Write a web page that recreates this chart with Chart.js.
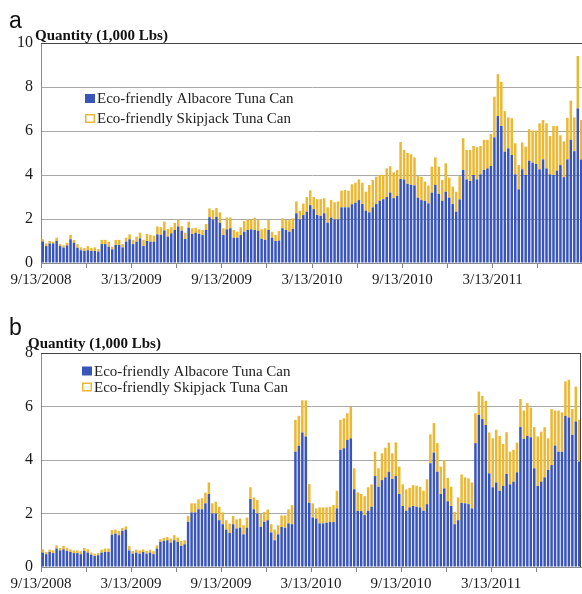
<!DOCTYPE html>
<html><head><meta charset="utf-8">
<script src="https://cdn.jsdelivr.net/npm/chart.js@4.4.1/dist/chart.umd.min.js"></script>
<style>
html,body{margin:0;padding:0;background:#fff;overflow:hidden;width:582px;height:594px;}
#ca{position:absolute;left:0;top:0;}
#cb{position:absolute;left:0;top:300px;}
</style></head><body>
<canvas id="ca" width="590" height="297"></canvas>
<canvas id="cb" width="590" height="294"></canvas>
<script>
// ---------- data ----------
const tickLabels = ["9/13/2008","3/13/2009","9/13/2009","3/13/2010","9/13/2010","3/13/2011"];
const seriesNames = ["Eco-friendly Albacore Tuna Can","Eco-friendly Skipjack Tuna Can"];
const startDate = new Date(2008, 8, 13);
const weekCount = 156;
const weeks = [];
for (let i = 0; i < weekCount; i++) {
  const d = new Date(startDate.getTime() + i * 7 * 86400000);
  weeks.push((d.getMonth()+1) + "/" + d.getDate() + "/" + d.getFullYear());
}

// Panel a
const albacoreA = [0.97,0.77,0.89,0.89,1.00,0.77,0.70,0.80,1.08,0.92,0.69,0.58,0.55,0.58,0.55,0.55,0.52,0.86,0.86,0.74,
0.62,0.82,0.82,0.71,0.97,1.08,0.86,0.97,1.12,0.77,1.00,0.97,0.97,1.30,1.28,1.48,1.20,1.35,1.50,1.66,
1.47,1.09,1.60,1.32,1.38,1.32,1.27,1.50,2.08,1.98,2.10,1.83,1.27,1.53,1.58,1.15,1.15,1.27,1.42,1.50,
1.53,1.50,1.47,1.10,1.05,1.50,1.15,1.00,1.02,1.58,1.50,1.42,1.55,2.26,1.98,2.18,2.33,2.63,2.45,2.18,
2.14,2.26,1.83,2.06,1.98,1.98,2.53,2.53,2.53,2.67,2.74,2.86,2.68,2.38,2.30,2.53,2.68,2.83,2.90,3.00,
3.20,2.95,3.05,3.82,3.80,3.60,3.55,3.53,2.97,2.86,2.82,2.71,3.20,3.55,3.14,2.83,3.24,2.97,2.68,2.33,
2.89,4.23,3.80,3.73,4.00,3.80,4.03,4.23,4.30,4.41,5.71,6.68,6.23,5.06,5.21,4.91,4.03,3.35,4.26,4.00,
4.65,4.56,4.50,4.26,4.71,4.30,4.03,4.00,4.20,4.45,3.90,4.71,5.60,5.08,7.03,4.70];
const skipjackA = [0.11,0.12,0.11,0.08,0.15,0.09,0.10,0.12,0.20,0.13,0.16,0.13,0.13,0.19,0.14,0.16,0.11,0.19,0.19,0.23,
0.12,0.23,0.23,0.15,0.18,0.22,0.19,0.23,0.26,0.28,0.32,0.31,0.28,0.36,0.35,0.40,0.35,0.28,0.32,0.31,
0.21,0.29,0.28,0.26,0.22,0.21,0.23,0.27,0.40,0.42,0.40,0.47,0.31,0.54,0.49,0.35,0.27,0.35,0.48,0.48,
0.42,0.56,0.48,0.43,0.53,0.45,0.27,0.27,0.43,0.45,0.45,0.53,0.48,0.54,0.40,0.52,0.67,0.67,0.55,0.72,
0.76,0.68,0.70,0.80,0.78,0.82,0.76,0.79,0.76,0.91,0.91,0.94,0.97,0.86,1.25,1.24,1.24,1.17,1.10,1.30,
1.20,1.17,1.18,1.68,1.34,1.40,1.39,1.27,0.98,1.06,0.88,0.81,1.18,1.25,1.24,0.94,1.29,0.91,0.79,0.91,
1.06,1.44,1.34,1.41,1.32,1.46,1.29,1.37,1.30,1.45,1.85,1.90,2.01,1.84,1.41,1.67,1.41,1.10,1.22,1.29,
1.43,1.46,1.52,2.09,1.79,2.05,1.74,2.23,2.03,1.35,1.63,1.89,1.78,1.54,2.38,1.80];

// Panel b
const albacoreB = [0.54,0.48,0.56,0.52,0.69,0.62,0.66,0.60,0.56,0.52,0.52,0.48,0.60,0.54,0.46,0.41,0.44,0.54,0.56,0.56,
1.21,1.25,1.19,1.35,1.40,0.62,0.50,0.54,0.50,0.56,0.50,0.54,0.48,0.69,0.94,0.98,1.00,0.91,1.00,0.94,
0.79,0.85,1.69,2.04,2.04,2.16,2.16,2.38,2.73,2.00,2.00,1.75,1.60,1.40,1.27,1.60,1.44,1.47,1.22,1.47,
2.54,2.16,2.00,1.50,1.69,1.75,1.29,1.00,1.22,1.50,1.47,1.63,1.60,4.31,4.53,5.03,4.88,2.40,1.85,1.81,
1.63,1.63,1.65,1.68,1.68,2.19,4.38,4.44,4.75,4.81,2.91,2.10,2.09,1.94,2.10,2.25,3.40,3.00,3.25,3.35,
3.56,3.29,3.40,2.73,2.28,2.10,2.23,2.28,2.25,2.23,2.10,2.35,3.88,4.28,3.56,2.73,2.94,2.46,2.28,1.60,
1.75,2.40,2.38,2.35,2.19,4.63,5.69,5.53,5.31,3.50,2.98,3.16,2.85,3.03,3.48,3.09,3.19,3.54,5.23,4.79,
4.90,4.85,3.69,3.03,3.19,3.35,3.63,3.81,4.54,4.31,4.31,5.65,5.59,4.94,5.44,3.94];
const skipjackB = [0.12,0.08,0.09,0.10,0.12,0.09,0.13,0.11,0.10,0.10,0.10,0.11,0.11,0.12,0.08,0.09,0.08,0.11,0.13,0.13,
0.17,0.15,0.16,0.11,0.12,0.16,0.10,0.11,0.12,0.10,0.10,0.11,0.11,0.12,0.10,0.11,0.12,0.15,0.19,0.16,
0.18,0.15,0.22,0.34,0.34,0.37,0.41,0.40,0.43,0.38,0.44,0.50,0.44,0.35,0.35,0.31,0.34,0.34,0.34,0.38,
0.44,0.44,0.50,0.48,0.37,0.40,0.31,0.40,0.34,0.43,0.46,0.53,0.71,1.19,1.12,1.20,1.35,0.70,0.53,0.38,
0.60,0.60,0.58,0.57,0.63,0.66,1.12,1.12,1.00,1.17,0.78,0.69,0.64,0.71,0.88,0.84,0.91,0.69,1.00,1.11,
1.09,0.96,1.26,1.02,0.81,0.80,0.73,0.78,0.79,0.77,0.75,0.93,1.08,1.10,1.07,1.02,1.06,0.87,0.72,0.46,
0.85,1.06,0.97,0.96,0.97,1.12,0.87,0.87,0.90,1.53,1.83,1.97,2.05,1.57,1.56,1.22,1.19,1.11,1.05,1.06,
1.23,1.11,1.54,1.85,1.87,1.88,1.18,2.09,1.31,1.54,1.47,1.29,1.41,0.97,1.30,1.56];

// ---------- styling ----------
const BLUE = '#3A55B9';
const GOLD = '#EAB832';
const SERIF = '"Liberation Serif", "Times New Roman", serif';

const decor = {
  id: 'decor',
  afterDraw(chart, args, o) {
    const ctx = chart.ctx, ca = chart.chartArea;
    ctx.save();
    ctx.strokeStyle = '#444';
    ctx.lineWidth = 1;
    ctx.beginPath();
    const ty = Math.round(ca.top) + 0.5;
    ctx.moveTo(ca.left, ty); ctx.lineTo(ca.right, ty);
    if (o.rightBorder) {
      const rx = Math.round(ca.right) - 0.5;
      ctx.moveTo(rx, ty); ctx.lineTo(rx, ca.bottom);
    }
    ctx.stroke();
    ctx.fillStyle = '#111';
    ctx.textBaseline = 'alphabetic';
    ctx.textAlign = 'left';
    ctx.font = '23px "Liberation Sans", Arial, sans-serif';
    ctx.fillText(o.panel, o.panelX, o.panelY);
    ctx.font = 'bold 15px ' + SERIF;
    ctx.fillText(o.title, o.titleX, o.titleY);
    ctx.font = '15px ' + SERIF;
    ctx.textBaseline = 'middle';
    chart.data.datasets.forEach((ds, i) => {
      const y = o.legendY + i * o.legendGap;
      if (i === 0) {
        ctx.fillStyle = ds.backgroundColor;
        ctx.fillRect(o.legendX, y - 4.5, 10, 9);
      } else {
        ctx.strokeStyle = ds.backgroundColor;
        ctx.lineWidth = 1.5;
        ctx.strokeRect(o.legendX + 0.75, y - 3.75, 8.5, 7.5);
      }
      ctx.fillStyle = '#222';
      ctx.fillText(ds.label, o.legendX + 12, y + 1);
    });
    ctx.restore();
  }
};

function makeChart(id, alb, skip, yMax, geo, deco) {
  const canvas = document.getElementById(id);
  return new Chart(canvas, {
    type: 'bar',
    data: {
      labels: weeks,
      datasets: [
        { label: seriesNames[0], data: alb, backgroundColor: BLUE, borderWidth: 0,
          barPercentage: 0.72, categoryPercentage: 1 },
        { label: seriesNames[1], data: skip, backgroundColor: GOLD, borderWidth: 0,
          barPercentage: 0.72, categoryPercentage: 1 }
      ]
    },
    options: {
      responsive: false,
      animation: false,
      devicePixelRatio: 1,
      layout: { autoPadding: false, padding: { left: 0, right: geo.right, top: geo.top, bottom: 0 } },
      plugins: { legend: { display: false }, tooltip: { enabled: false }, decor: deco },
      scales: {
        x: {
          stacked: true,
          afterFit: s => { s.height = geo.xh; },
          grid: {
            offset: true, drawOnChartArea: false, drawTicks: true, tickLength: 5,
            color: c => (c.index !== undefined && c.index % 13 === 0) ? '#888' : 'rgba(0,0,0,0)'
          },
          border: { display: true, color: '#8c8c8c', width: 1 },
          ticks: {
            autoSkip: false, maxRotation: 0, minRotation: 0, padding: 3, labelOffset: -1.7,
            color: '#1a1a1a', font: { family: SERIF, size: 15 },
            callback: (v, i) => (i % 26 === 0 && tickLabels[i / 26]) ? tickLabels[i / 26] : ''
          }
        },
        y: {
          stacked: true, min: 0, max: yMax,
          afterFit: s => { s.width = 41; },
          grid: { color: '#a8a8a8', drawTicks: false, lineWidth: 1 },
          border: { display: true, color: '#8c8c8c', width: 1 },
          ticks: { stepSize: 2, padding: 8, color: '#1a1a1a', font: { family: SERIF, size: 16 } }
        }
      }
    },
    plugins: [decor]
  });
}

makeChart('ca', albacoreA, skipjackA, 10,
  { right: 7, top: 43, xh: 34 },
  { panel: 'a', panelX: 9, panelY: 28, title: 'Quantity (1,000 Lbs)', titleX: 35, titleY: 40,
    legendX: 85, legendY: 98.5, legendGap: 20, rightBorder: false });

makeChart('cb', albacoreB, skipjackB, 8,
  { right: 9, top: 53, xh: 27 },
  { panel: 'b', panelX: 9, panelY: 35, title: 'Quantity (1,000 Lbs)', titleX: 28, titleY: 48,
    legendX: 82, legendY: 71, legendGap: 16, rightBorder: true });
</script>
</body></html>
